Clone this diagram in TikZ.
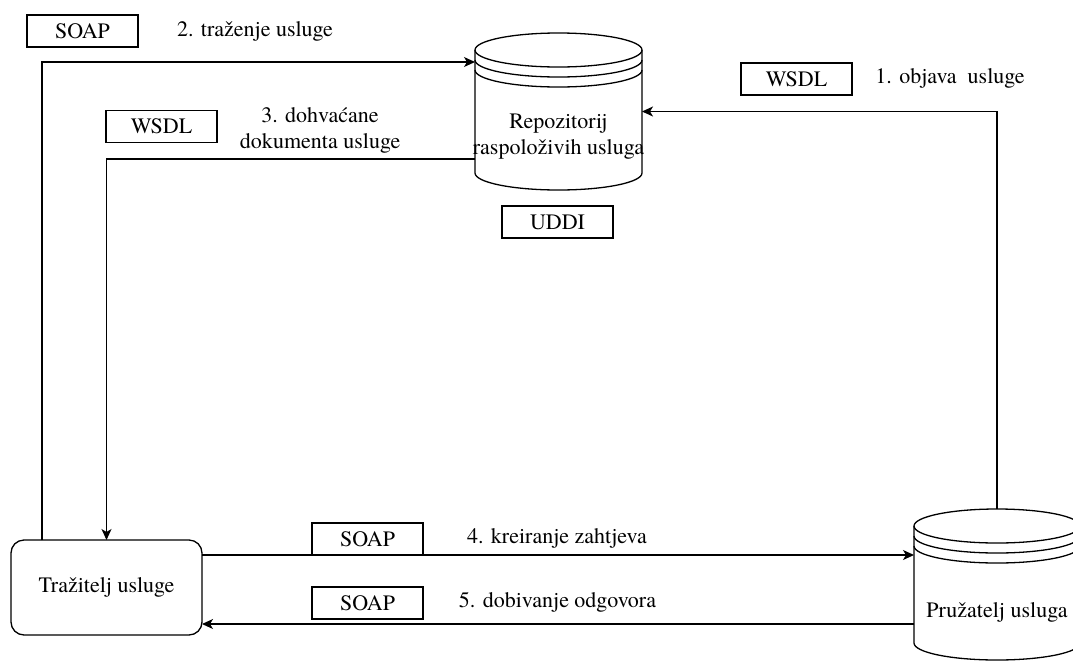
\documentclass[tikz,border=0pt]{standalone}
\usepackage{fontspec}
\setmainfont{texgyretermes}[Extension=.otf, UprightFont=*-regular, BoldFont=*-bold, ItalicFont=*-italic, BoldItalicFont=*-bolditalic]
\usetikzlibrary{arrows.meta,calc}
\tikzset{
  ln/.style={line width=1.3pt, draw=black},
  arr/.style={ln, -{Stealth[length=11pt,width=10pt,inset=3pt]}},
  tag/.style={draw, line width=1.3pt, minimum width=111pt, minimum height=32pt, inner sep=0pt, outer sep=0pt},
  body/.style={inner sep=0pt, outer sep=0pt},
  txt/.style={inner sep=0pt, align=center},
}
\newcommand{\dstore}[2]{%
  \draw[ln] ([yshift=-17pt]#1.north) ellipse [x radius=#2, y radius=17pt];
  \draw[ln] ([yshift=-17pt]#1.north west) -- ([yshift=17pt]#1.south west)
     arc[start angle=180, end angle=360, x radius=#2, y radius=17pt]
     -- ([yshift=-17pt]#1.north east);
  \draw[ln] ([yshift=-27pt]#1.north west) arc[start angle=180, end angle=360, x radius=#2, y radius=17pt];
  \draw[ln] ([yshift=-37pt]#1.north west) arc[start angle=180, end angle=360, x radius=#2, y radius=17pt];
}
\begin{document}
\begin{tikzpicture}[x=1pt, y=1pt, font=\fontsize{22}{26}\selectfont]
\useasboundingbox (0,0) rectangle (1073,-662);
\fill[white] (0,0) rectangle (1073,-662);

% main shapes
\node[body, draw, line width=1.3pt, rounded corners=13pt, minimum width=191pt, minimum height=95pt] (tra) at (106.5,-587.5) {Tražitelj usluge};
\node[body, minimum width=167pt, minimum height=157pt] (repo) at (558.5,-111.5) {};
\node[body, minimum width=166pt, minimum height=151pt] (pru) at (997,-584.5) {};
\dstore{repo}{83.5pt}
\dstore{pru}{83pt}
\node[txt] (repotxt) at (558.5,-137) {Repozitorij\\raspoloživih usluga};
\node[txt] (prutxt) at (997,-612) {Pružatelj usluga};

% tags
\node[tag] (soap2) at (82.5,-31) {SOAP};
\node[tag] (wsdl1) at (796.5,-79) {WSDL};
\node[tag] (wsdl3) at (161.5,-126.5) {WSDL};
\node[tag] (uddi) at (557.5,-222) {UDDI};
\node[tag] (soap4) at (367.5,-539) {SOAP};
\node[tag] (soap5) at (367.5,-603) {SOAP};

% step labels
\node[txt] (l1) at (950,-78) {1. objava\ \ usluge};
\node[txt] (l2) at (255,-31) {2. traženje usluge};
\node[txt, text depth=0pt] (l3) at (320,-128) {3. dohvaćane\\dokumenta usluge};
\node[txt] (l4) at (557,-538) {4. kreiranje zahtjeva};
\node[txt] (l5) at (557.5,-602) {5. dobivanje odgovora};

% connectors
\draw[arr] (pru.north) |- (repo.east);
\draw[arr] ([xshift=31pt]tra.north west) |- ([yshift=-29pt]repo.north west);
\draw[arr] ([yshift=-126pt]repo.north west) -| (tra.north);
\draw[arr] ([yshift=-15pt]tra.north east) -- ([yshift=-46pt]pru.north west);
\draw[arr] ([yshift=-115pt]pru.north west) -- ([yshift=-84pt]tra.north east);
\end{tikzpicture}
\end{document}
